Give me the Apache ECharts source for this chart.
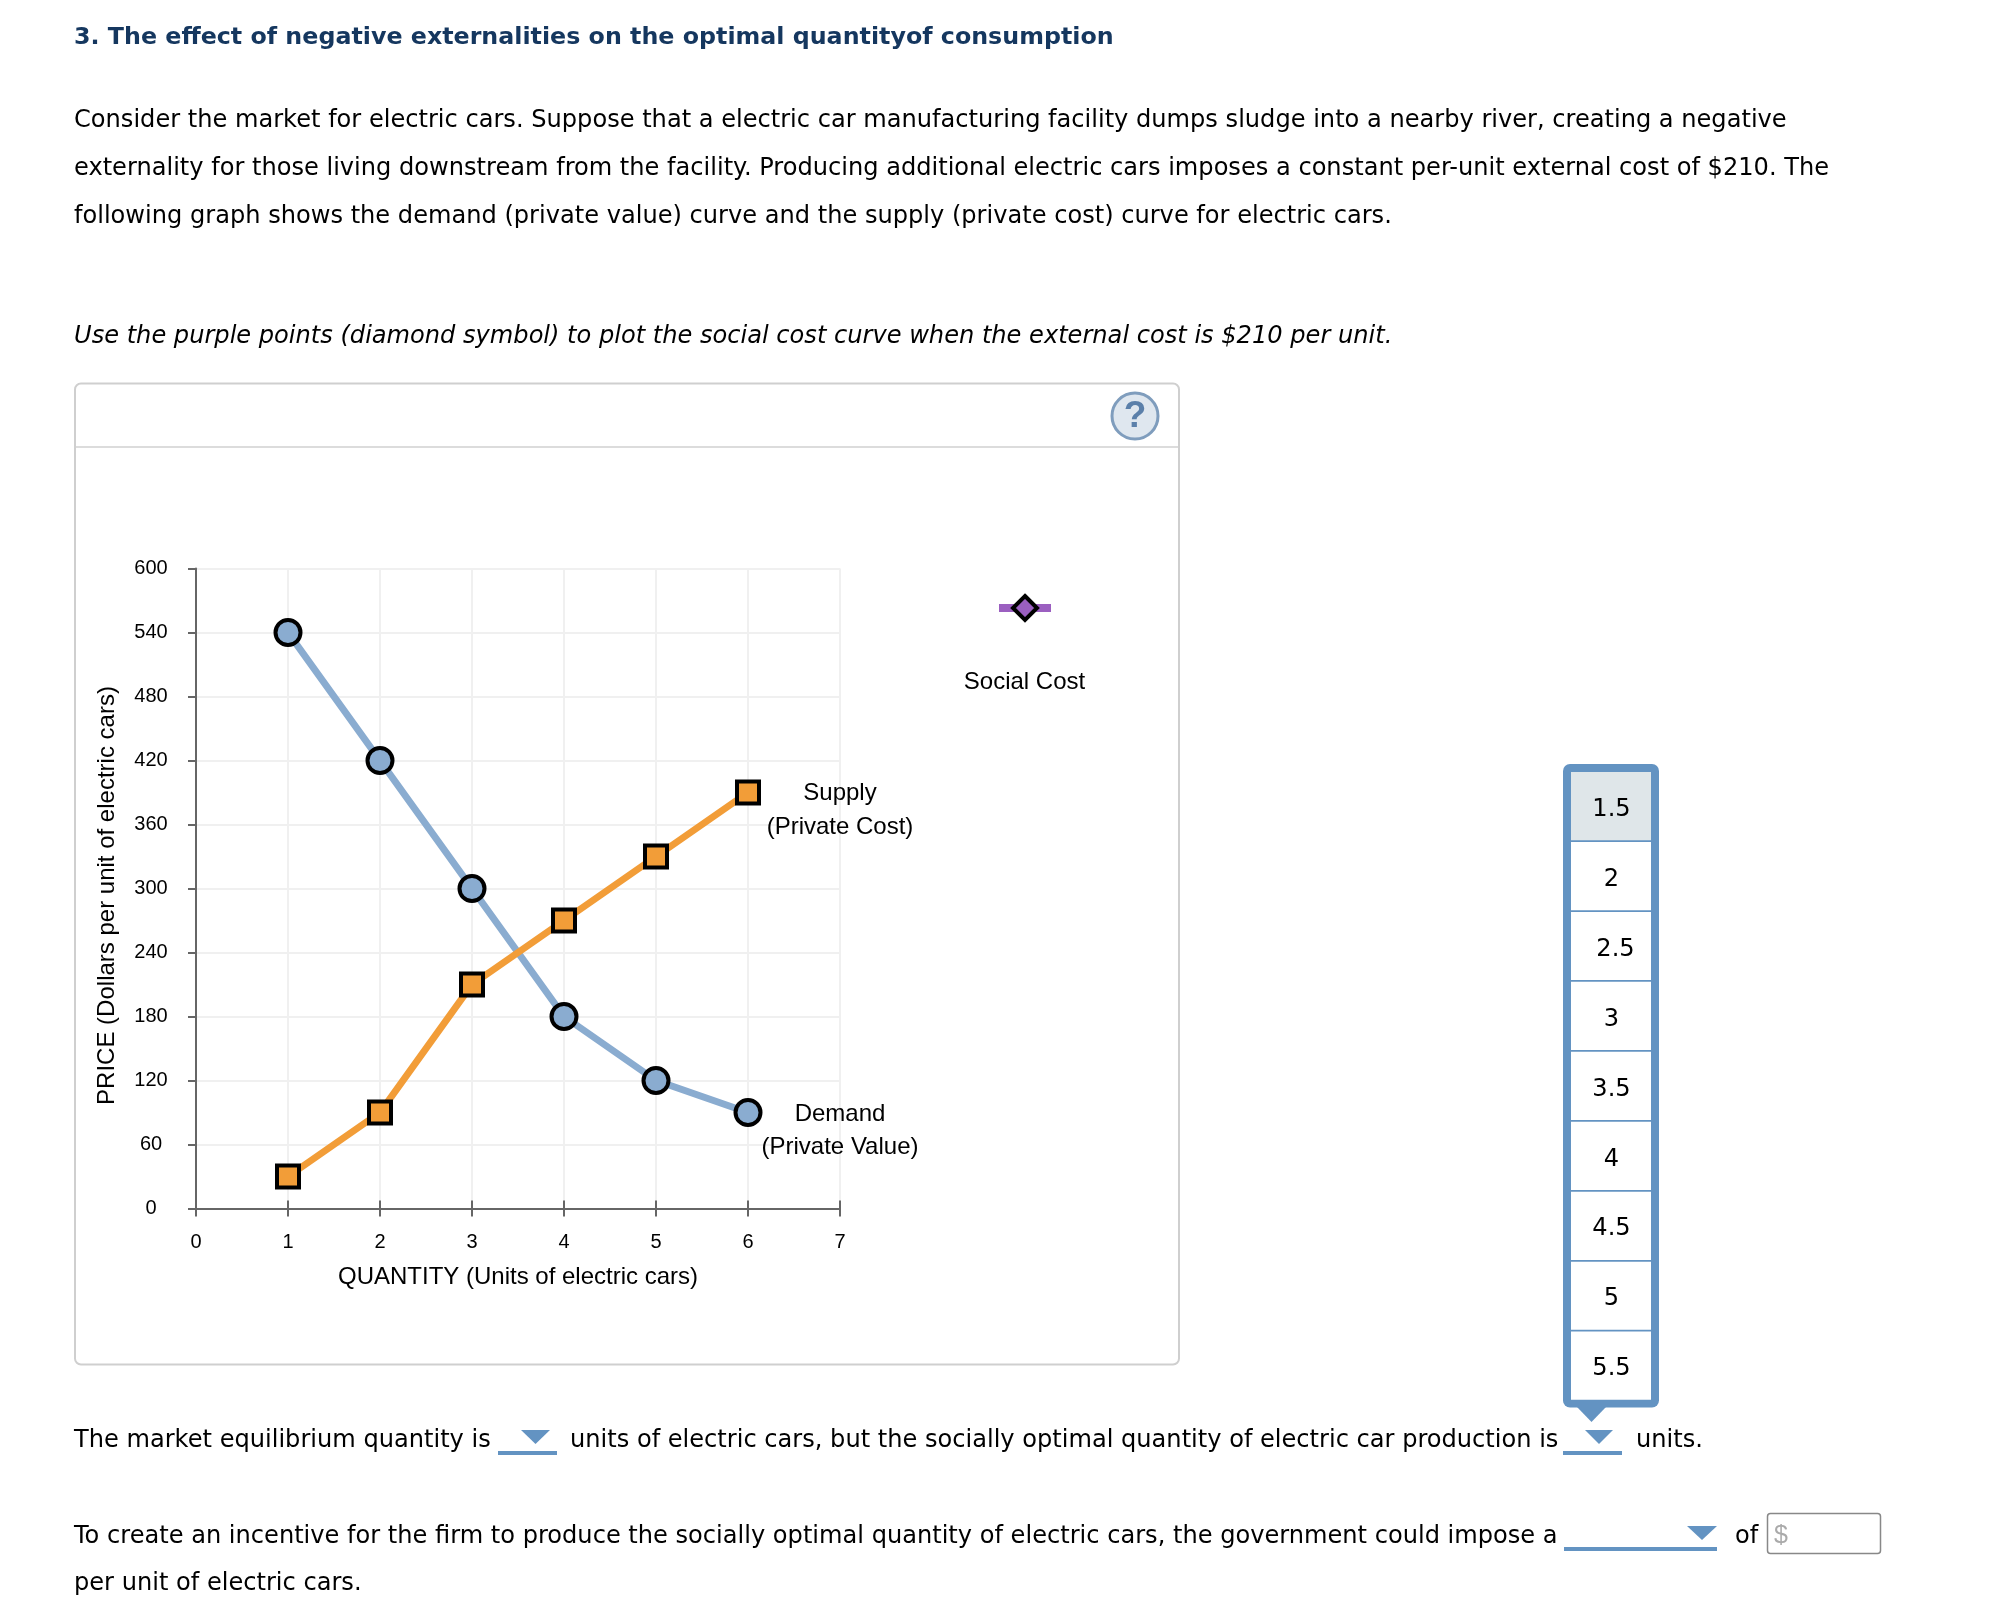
<!DOCTYPE html>
<html><head><meta charset="utf-8">
<style>html,body{margin:0;padding:0;background:#fff}#c{width:2002px;height:1612px}</style>
<script src="https://cdn.jsdelivr.net/npm/echarts@6/dist/echarts.min.js"></script>
</head><body><div id="c"></div>
<script>
const quantities = [1, 2, 3, 4, 5, 6];
const supplyValues = [30, 90, 210, 270, 330, 390];
const demandValues = [540, 420, 300, 180, 120, 90];
const dropdownOptions = ['1.5','2','2.5','3','3.5','4','4.5','5','5.5'];
const xAxisName = 'QUANTITY (Units of electric cars)';
const yAxisName = 'PRICE (Dollars per unit of electric cars)';
const supplyLabel = 'Supply\n(Private Cost)';
const demandLabel = 'Demand\n(Private Value)';
const socialLabel = 'Social Cost';

const BLUE='#8aacd0', ORANGE='#f29d38', PURPLE='#9b5fc0', UI='#6393c2';
const chartFont='"Liberation Sans", Arial, sans-serif';
const pageFont='"DejaVu Sans", Verdana, sans-serif';
const pageSize=24.1;

function txt(x,y,s,o){o=o||{};return {type:'text',x:x,y:y,z:o.z||5,style:{text:s,fill:o.fill||'#000',
  font:(o.italic?'italic ':'')+(o.bold?'bold ':'')+(o.size||pageSize)+'px '+(o.family||pageFont),
  textAlign:o.align||'left',textVerticalAlign:'middle'}};}
function tri(x1,x2,y1,y2){return {type:'polygon',z:5,shape:{points:[[x1,y1],[x2,y1],[(x1+x2)/2,y2]]},style:{fill:UI}};}
function bar(x1,x2,y,h){return {type:'rect',z:5,shape:{x:x1,y:y,width:x2-x1,height:h||4},style:{fill:UI}};}

const gfx=[
  txt(74,38,'3. The effect of negative externalities on the optimal quantityof consumption',{bold:true,fill:'#15375f',size:23.75}),
  txt(74,120.5,'Consider the market for electric cars. Suppose that a electric car manufacturing facility dumps sludge into a nearby river, creating a negative'),
  txt(74,168.5,'externality for those living downstream from the facility. Producing additional electric cars imposes a constant per-unit external cost of $210. The'),
  txt(74,216.5,'following graph shows the demand (private value) curve and the supply (private cost) curve for electric cars.'),
  txt(74,337,'Use the purple points (diamond symbol) to plot the social cost curve when the external cost is $210 per unit.',{italic:true}),
  {type:'rect',z:0,shape:{x:75,y:383.5,width:1104,height:981,r:6},style:{fill:'#fff',stroke:'#cfcfcf',lineWidth:2}},
  {type:'rect',z:1,shape:{x:76,y:446,width:1102,height:2},style:{fill:'#dcdcdc'}},
  {type:'circle',z:5,shape:{cx:1135,cy:416,r:23},style:{fill:'#dfe7ef',stroke:'#7f9dbd',lineWidth:3}},
  txt(1135,417,'?',{family:chartFont,bold:true,size:37,fill:'#5b80aa',align:'center'}),
  txt(1024.5,682,socialLabel,{family:chartFont,size:24,align:'center'}),
  // dropdown list
  {type:'rect',z:4,shape:{x:1563,y:764,width:96,height:643.5,r:7},style:{fill:UI}},
  {type:'polygon',z:4,shape:{points:[[1577,1407],[1606,1407],[1591.5,1422]]},style:{fill:UI}},
  txt(74,1440.5,'The market equilibrium quantity is'),
  tri(521,550,1430,1444), bar(498,557,1451),
  txt(570,1440.5,'units of electric cars, but the socially optimal quantity of electric car production is'),
  tri(1585,1613,1430,1444), bar(1563,1622,1451),
  txt(1636,1440.5,'units.'),
  txt(74,1536.5,'To create an incentive for the firm to produce the socially optimal quantity of electric cars, the government could impose a'),
  tri(1687,1717,1526,1540), bar(1564,1717,1547),
  txt(1735,1536.5,'of'),
  {type:'rect',z:5,shape:{x:1767.5,y:1513.5,width:113,height:40,r:3},style:{fill:'#fff',stroke:'#888',lineWidth:1.5}},
  txt(1774,1536,'$',{fill:'#aaa',family:chartFont,size:25}),
  txt(74,1584,'per unit of electric cars.')
];
dropdownOptions.forEach(function(o,i){
  const top=772+i*69.95;
  gfx.push({type:'rect',z:4,shape:{x:1571,y:top,width:80,height:68.2},style:{fill:i===0?'#dfe6e9':'#fff'}});
  gfx.push(txt(o==='2.5'?1615.5:1611.5,top+37.5,o,{align:'center',z:5}));
});

const axisLine={lineStyle:{color:'#666',width:2}};
const chart=echarts.init(document.getElementById('c'),null,{renderer:'canvas'});
chart.setOption({
  animation:false,
  backgroundColor:'#fff',
  textStyle:{fontFamily:chartFont},
  grid:{left:196,top:568.5,width:644,height:640,containLabel:false},
  xAxis:[{
    type:'value',min:0,max:7,interval:1,name:xAxisName,nameLocation:'middle',nameGap:57,
    nameTextStyle:{fontSize:24,color:'#000',fontFamily:chartFont},
    axisLine:axisLine,axisTick:{length:8,lineStyle:{color:'#666',width:2}},
    axisLabel:{fontSize:20,color:'#000',margin:24,fontFamily:chartFont},
    splitLine:{show:true,lineStyle:{color:'#f0f0f0',width:2}}
  },{
    type:'value',min:0,max:7,interval:1,position:'bottom',
    axisLine:{show:false},axisTick:{inside:true,length:8,lineStyle:{color:'#666',width:2}},
    axisLabel:{show:false},splitLine:{show:false}
  }],
  yAxis:{
    type:'value',min:0,max:600,interval:60,name:yAxisName,nameLocation:'middle',nameGap:77,
    nameTextStyle:{fontSize:24,color:'#000',fontFamily:chartFont,padding:[0,14,0,0]},
    axisLine:axisLine,axisTick:{length:8,lineStyle:{color:'#666',width:2}},
    axisLabel:{fontSize:20,color:'#000',margin:45,align:'center',fontFamily:chartFont},
    splitLine:{show:true,lineStyle:{color:'#f0f0f0',width:2}}
  },
  legend:{
    data:[{name:'Social Cost'}],left:995,top:593,itemWidth:52,itemHeight:30,selectedMode:false,
    formatter:function(){return '';},padding:0,
    lineStyle:{width:8},itemStyle:{borderWidth:4}
  },
  series:[
    {name:'Demand',type:'line',z:3,data:quantities.map((q,i)=>[q,demandValues[i]]),
      symbol:'circle',symbolSize:25,showSymbol:true,lineStyle:{color:BLUE,width:7},
      itemStyle:{color:BLUE,borderColor:'#000',borderWidth:4},
      endLabel:{show:true,formatter:demandLabel,fontSize:24,lineHeight:33,color:'#000',fontFamily:chartFont,
        align:'center',verticalAlign:'middle',distance:0,offset:[92,18.5]}},
    {name:'Supply',type:'line',z:4,data:quantities.map((q,i)=>[q,supplyValues[i]]),
      symbol:'rect',symbolSize:22,showSymbol:true,lineStyle:{color:ORANGE,width:7},
      itemStyle:{color:ORANGE,borderColor:'#000',borderWidth:4},
      endLabel:{show:true,formatter:supplyLabel,fontSize:24,lineHeight:33.5,color:'#000',fontFamily:chartFont,
        align:'center',verticalAlign:'middle',distance:0,offset:[92,18]}},
    {name:'Social Cost',type:'line',data:[],symbol:'diamond',symbolSize:26,
      lineStyle:{color:PURPLE,width:8},itemStyle:{color:PURPLE,borderColor:'#000',borderWidth:4}}
  ],
  graphic:{elements:gfx}
});
</script></body></html>
